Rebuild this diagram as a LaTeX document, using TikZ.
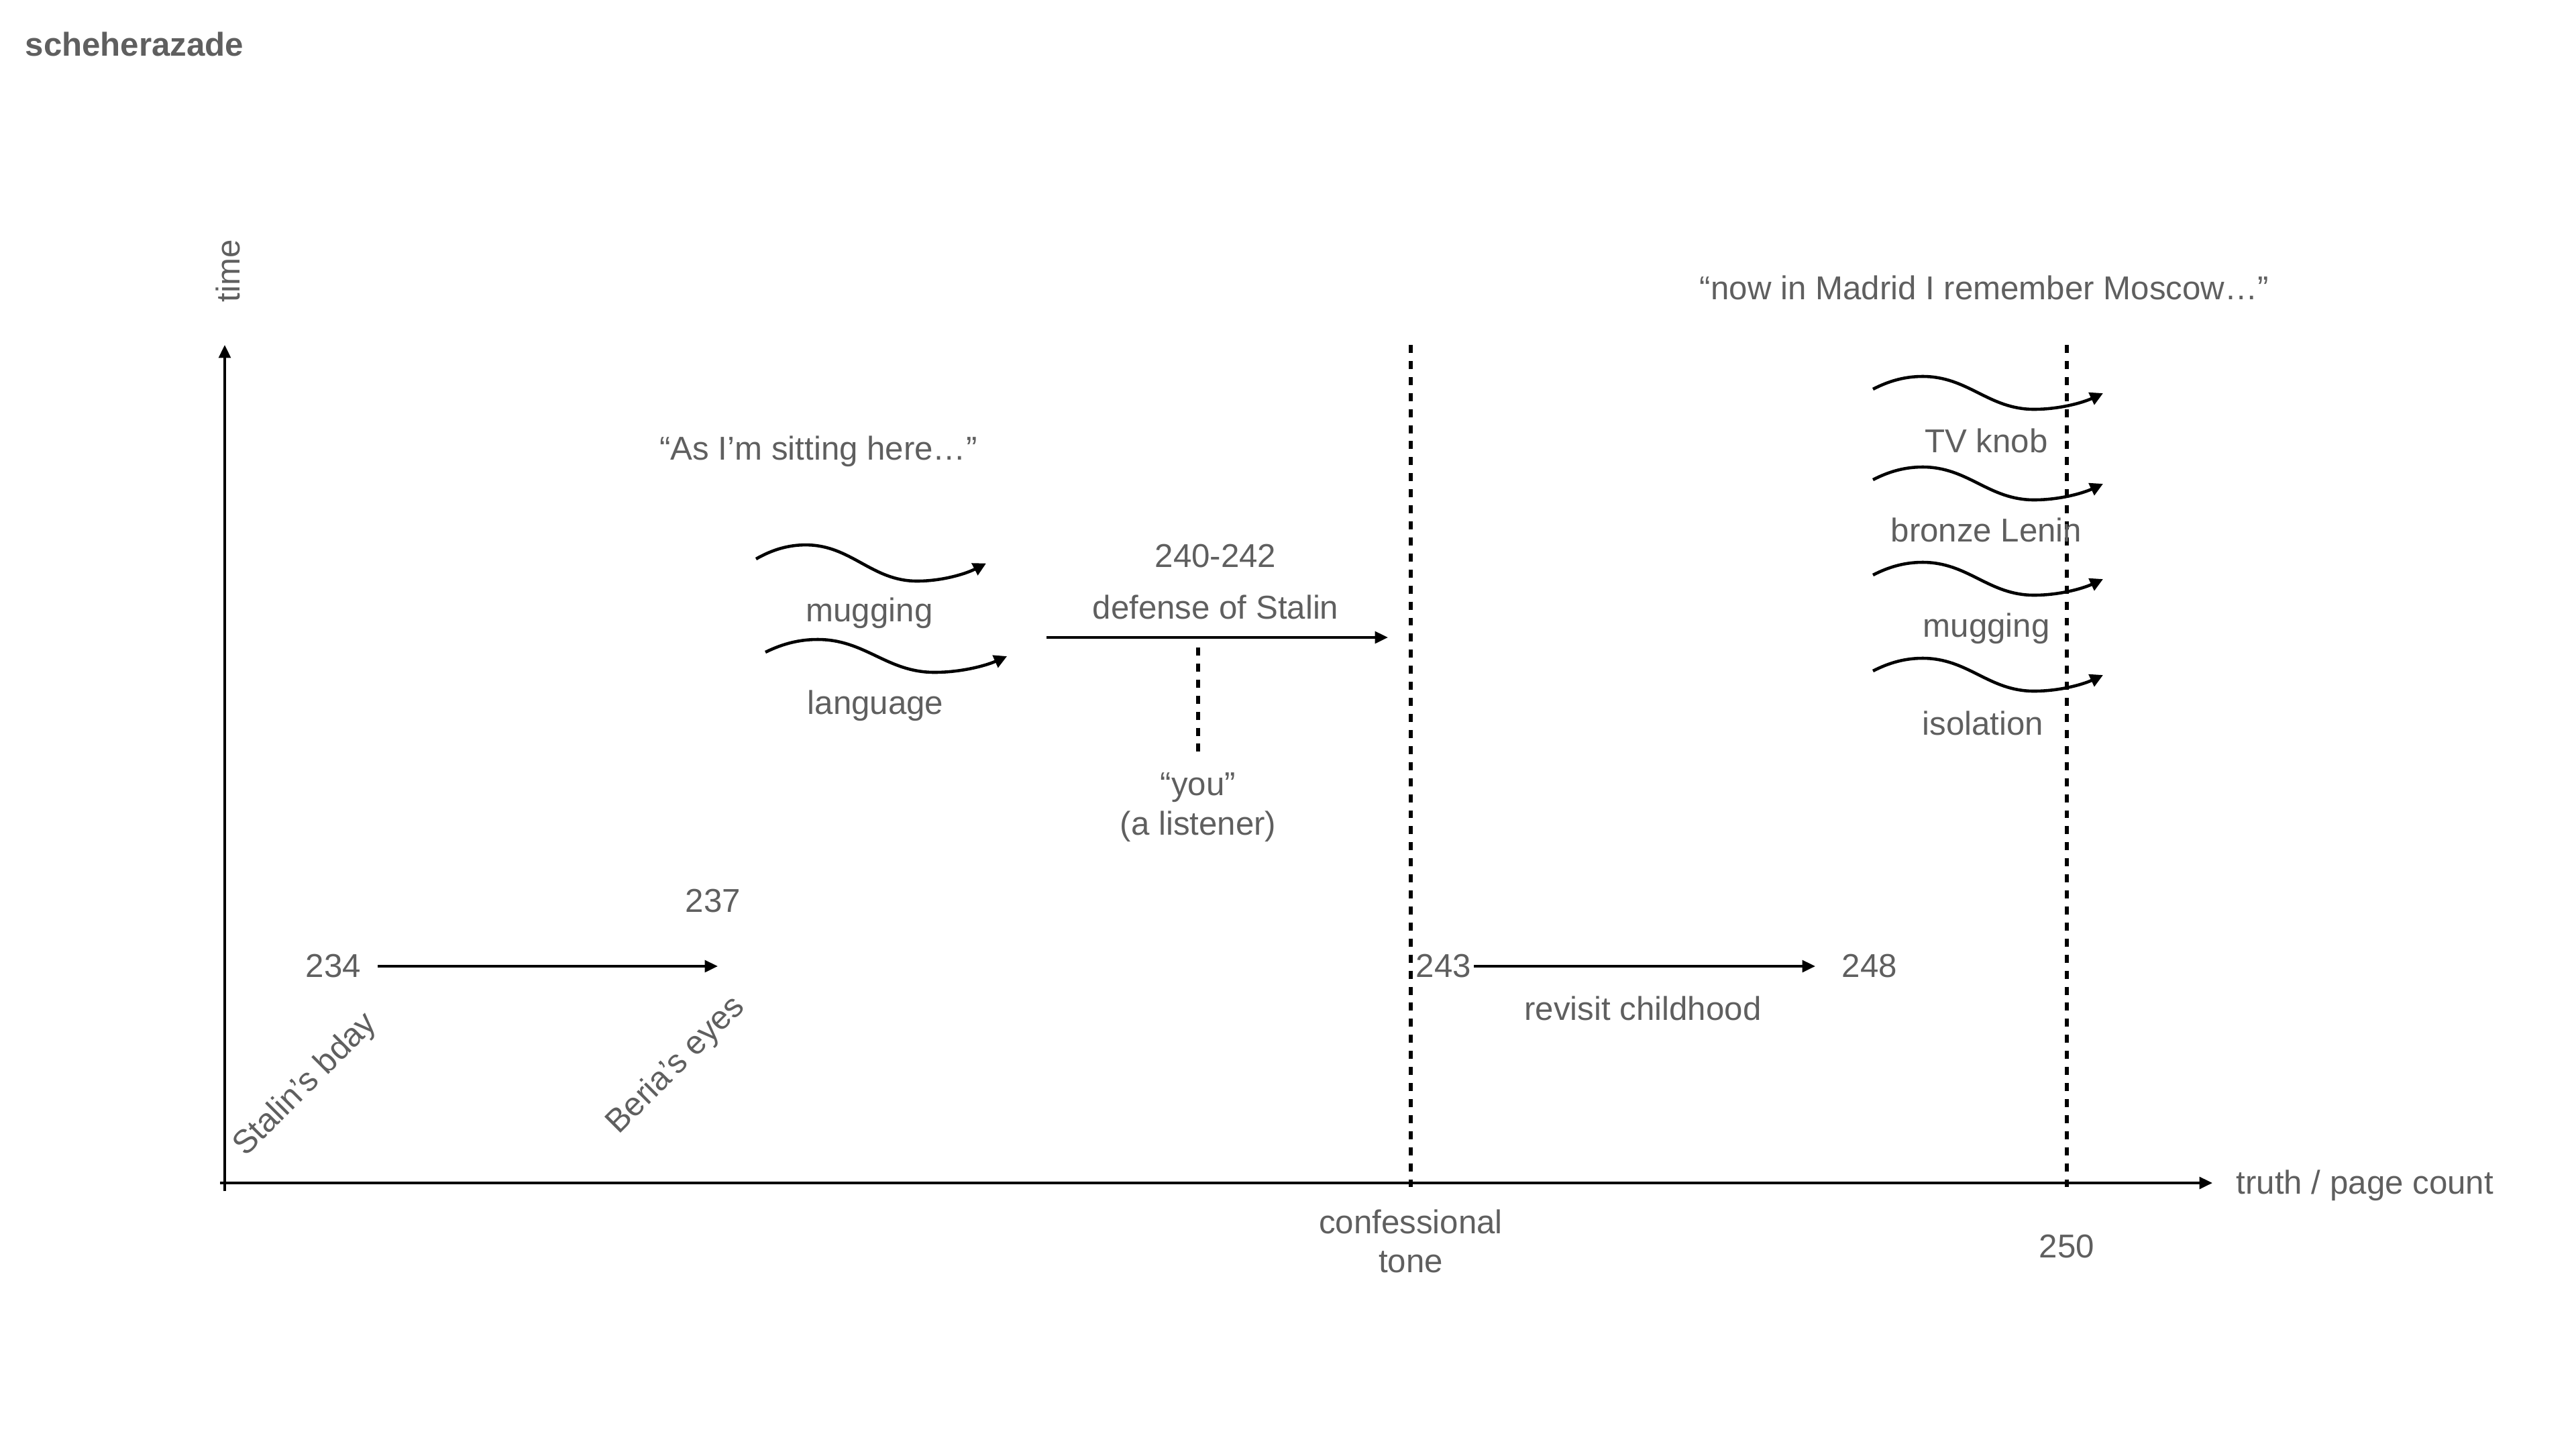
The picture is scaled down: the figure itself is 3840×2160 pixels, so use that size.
\documentclass[tikz,border=0pt]{standalone}
\usepackage{fontspec}
\setmainfont{Liberation Sans}
\usetikzlibrary{arrows.meta}
\definecolor{txtgray}{RGB}{95,95,95}
\tikzset{
  lbl/.style={text=txtgray, font=\fontsize{14}{16.7}\selectfont, inner sep=0pt, align=center},
  axisline/.style={line width=1.1pt, -{Triangle[length=5.5pt,width=5pt]}},
  plainarrow/.style={line width=1.1pt, -{Triangle[length=5.5pt,width=5pt]}},
  dashline/.style={line width=1.7pt, dash pattern=on 3.4pt off 3.4pt},
  wavearrow/.style={line width=1.3pt, -{Triangle[length=5.5pt,width=5.5pt]}},
  wave/.pic={\draw[wavearrow] (0,0) .. controls +(25,-13) and +(-25,0) .. (74,-19)
      .. controls +(68,0) and +(-68,0) .. (240,30)
      .. controls +(38,0) and +(-30,14) .. (343,6);}
}
\begin{document}
\begin{tikzpicture}[x=0.01cm,y=-0.01cm]
\useasboundingbox (0,0) rectangle (3840,2160);
% title
\node[lbl, font=\fontsize{14}{16.7}\selectfont\bfseries, anchor=west] (title) at (37,66) {scheherazade};
% axes
\coordinate (origin) at (335,1763);
\coordinate (ytop) at (335,514);
\coordinate (xend) at (3298,1763);
\coordinate (ybot) at (335,1775);
\coordinate (xstart) at (328,1763);
\draw[axisline] (ybot) -- (ytop);
\draw[axisline] (xstart) -- (xend);
\node[lbl, rotate=90] (time) at (340,404) {time};
\node[lbl, anchor=west] (truth) at (3333,1767) {truth / page count};
% vertical dashed lines
\coordinate (d1t) at (2103,514);
\coordinate (d1b) at (2103,1775);
\coordinate (d2t) at (3081,514);
\coordinate (d2b) at (3081,1775);
\draw[dashline] (d1t) -- (d1b);
\draw[dashline] (d2t) -- (d2b);
\node[lbl] (conf) at (2103,1850) {confessional\\tone};
\node[lbl] (n250) at (3081,1858) {250};
% 234 -> 237
\node[lbl] (n234) at (497,1440) {234};
\coordinate (a1s) at (563,1440);
\coordinate (a1e) at (1070,1440);
\draw[plainarrow] (a1s) -- (a1e);
\node[lbl] (n237) at (1063,1343) {237};
\node[lbl, rotate=45] (stalin) at (456,1617) {Stalin’s bday};
\node[lbl, rotate=45] (beria) at (1008,1588) {Beria’s eyes};
% sitting here
\node[lbl] (sitting) at (1220,673) {“As I’m sitting here…”};
\coordinate (w1) at (1127,833);
\coordinate (w2) at (1141,972);
\pic[yscale=1.1] at (w1) {wave};
\pic[xscale=1.05] at (w2) {wave};
\node[lbl] (mug1) at (1296,914) {mugging};
\node[lbl] (lang) at (1305,1052) {language};
% defense of Stalin
\node[lbl] (n240) at (1812,829) {240-242};
\node[lbl] (defense) at (1812,905) {defense of Stalin};
\coordinate (a2s) at (1560,950);
\coordinate (a2e) at (2069,950);
\draw[plainarrow] (a2s) -- (a2e);
\coordinate (y1) at (1786,965);
\coordinate (y2) at (1786,1122);
\draw[dashline, line width=1.5pt] (y1) -- (y2);
\node[lbl] (you) at (1786,1203) {“you”\\(a listener)};
% 243 -> 248
\node[lbl] (n243) at (2152,1440) {243};
\coordinate (a3s) at (2197,1440);
\coordinate (a3e) at (2706,1440);
\draw[plainarrow] (a3s) -- (a3e);
\node[lbl] (n248) at (2787,1440) {248};
\node[lbl] (revisit) at (2449,1503) {revisit childhood};
% Madrid
\node[lbl] (madrid) at (2958,429) {“now in Madrid I remember Moscow…”};
\coordinate (w3) at (2792,580);
\coordinate (w4) at (2792,715);
\coordinate (w5) at (2792,857);
\coordinate (w6) at (2792,1000);
\pic at (w3) {wave};
\pic at (w4) {wave};
\pic at (w5) {wave};
\pic at (w6) {wave};
\node[lbl] (tv) at (2961,657) {TV knob};
\node[lbl] (lenin) at (2961,790) {bronze Lenin};
\node[lbl] (mug2) at (2961,937) {mugging};
\node[lbl] (iso) at (2956,1078) {isolation};
\end{tikzpicture}
\end{document}
